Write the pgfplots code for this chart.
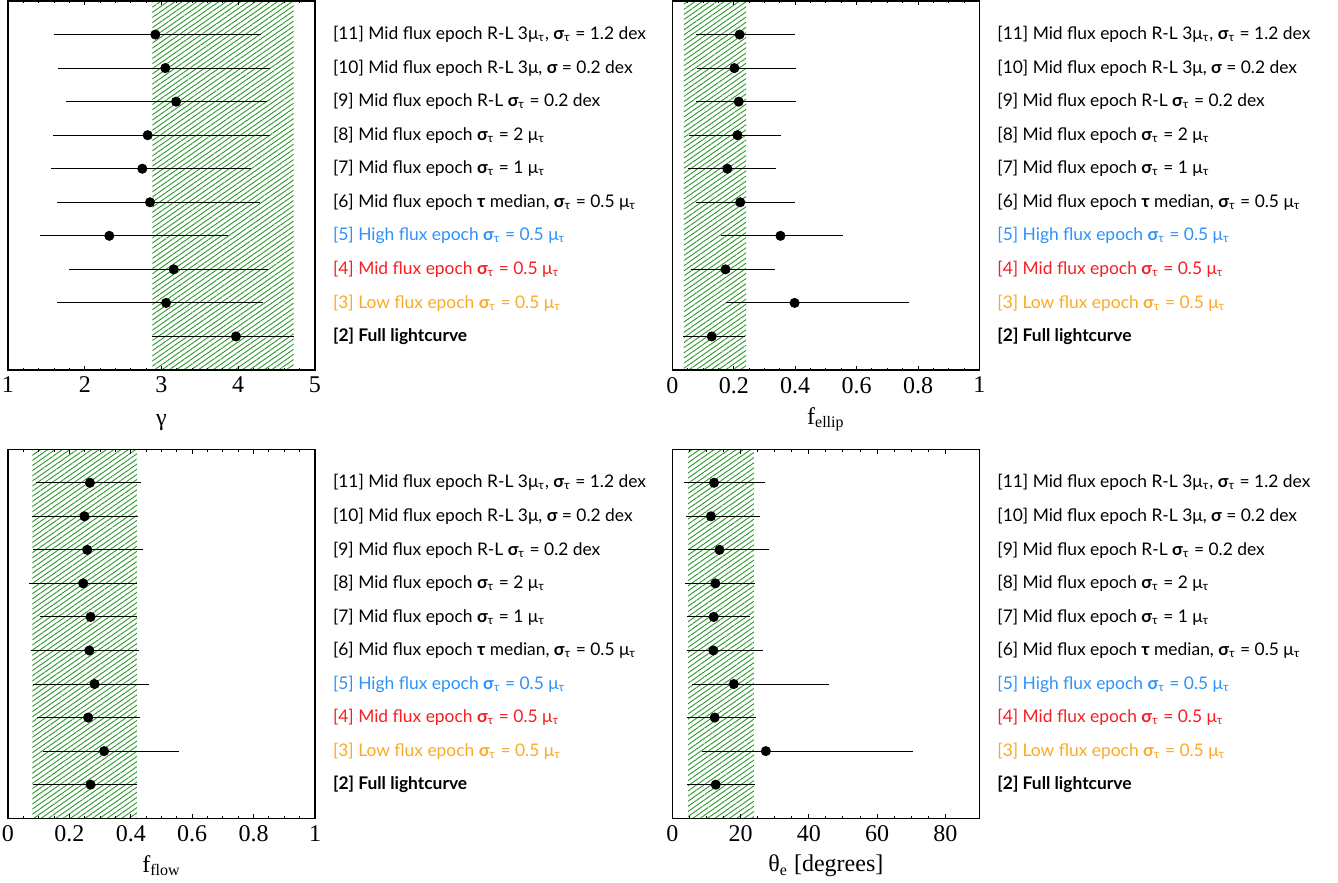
\documentclass[border=0pt]{standalone}
\usepackage{pgfplots}
\pgfplotsset{compat=1.18}
\usepackage{pgfplotstable}
\usepackage{fontspec}
\setmainfont{Liberation Serif}
\newfontfamily\lab{Lato}
\usetikzlibrary{patterns.meta}
\definecolor{cblue}{RGB}{45,145,250}
\definecolor{cred}{RGB}{245,30,35}
\definecolor{corange}{RGB}{250,170,35}
\definecolor{hatch}{RGB}{40,150,40}

\pgfplotstableread{
y x lo hi
11 2.92 1.60 4.29
10 3.05 1.65 4.41
9 3.19 1.75 4.38
8 2.82 1.58 4.41
7 2.75 1.56 4.16
6 2.85 1.64 4.28
5 2.32 1.42 3.86
4 3.16 1.79 4.39
3 3.06 1.64 4.32
2 3.97 2.87 4.72
}\dataA
\pgfplotstableread{
y x lo hi
11 0.219 0.077 0.400
10 0.202 0.080 0.403
9 0.216 0.077 0.403
8 0.212 0.055 0.355
7 0.179 0.051 0.338
6 0.221 0.077 0.398
5 0.352 0.159 0.555
4 0.173 0.060 0.333
3 0.398 0.173 0.770
2 0.128 0.036 0.236
}\dataB
\pgfplotstableread{
y x lo hi
11 0.267 0.090 0.434
10 0.249 0.077 0.423
9 0.258 0.081 0.439
8 0.245 0.070 0.419
7 0.269 0.103 0.420
6 0.265 0.075 0.428
5 0.282 0.083 0.459
4 0.261 0.094 0.431
3 0.313 0.114 0.558
2 0.269 0.081 0.420
}\dataC
\pgfplotstableread{
y x lo hi
11 12.2 3.5 27.1
10 11.3 4.1 25.7
9 13.8 4.6 28.2
8 12.6 3.8 24.1
7 12.1 4.2 22.7
6 12.0 4.2 26.7
5 18.0 5.6 45.8
4 12.4 4.2 24.5
3 27.4 8.6 70.4
2 12.7 4.4 24.1
}\dataD

\newcommand{\st}{{\bfseries σ}\textsubscript{τ}}
\newcommand{\mt}{μ\textsubscript{τ}}

\pgfplotsset{
  panel/.style={
    scale only axis, width=153.5pt, height=184.5pt,
    anchor=north west,
    ymin=1, ymax=12,
    axis on top,
    tick align=inside,
    xtick pos=both,
    major tick length=2.2pt, minor tick length=1.2pt,
    tick style={black, line width=0.5pt},
    axis line style={line width=0.6pt},
    /pgf/number format/assume math mode=true,
    xticklabel style={font=\fontsize{12}{14}\selectfont},
    xlabel style={font=\fontsize{12}{14}\selectfont},
    ytick={2,...,11},
    yticklabel pos=right,
    ytick style={draw=none},
    yticklabel style={font=\lab\fontsize{8.7}{10}\selectfont, anchor=west, xshift=5.5pt},
    yticklabels={
      {\textbf{[2] Full lightcurve}},
      {\textcolor{corange}{[3] Low flux epoch \st{} = 0.5 \mt}},
      {\textcolor{cred}{[4] Mid flux epoch \st{} = 0.5 \mt}},
      {\textcolor{cblue}{[5] High flux epoch \st{} = 0.5 \mt}},
      {[6] Mid flux epoch {\bfseries τ} median, \st{} = 0.5 \mt},
      {[7] Mid flux epoch \st{} = 1 \mt},
      {[8] Mid flux epoch \st{} = 2 \mt},
      {[9] Mid flux epoch R-L \st{} = 0.2 dex},
      {[10] Mid flux epoch R-L 3μ, {\bfseries σ} = 0.2 dex},
      {[11] Mid flux epoch R-L 3\mt, \st{} = 1.2 dex}
    },
  },
  band/.style={draw=none, pattern={Lines[angle=35,distance=2.1pt,line width=0.45pt]}, pattern color=hatch},
  pts/.style={only marks, mark=*, mark size=2.3pt, black,
    error bars/.cd, x dir=both, x explicit, error mark=none,
    error bar style={line width=0.5pt, black}},
}

\begin{document}
\begin{tikzpicture}
\useasboundingbox (0,0) rectangle (669pt,-441.5pt);

\begin{axis}[panel, at={(4pt,-0.5pt)}, xmin=1, xmax=5, xtick={1,2,3,4,5}, minor tick num=4, xlabel={γ}, xlabel style={yshift=-4pt}]
\addplot[band] coordinates {(2.88,1) (4.72,1) (4.72,12) (2.88,12)} -- cycle;
\addplot[pts] table[x=x, y=y, x error plus expr=\thisrow{hi}-\thisrow{x}, x error minus expr=\thisrow{x}-\thisrow{lo}] {\dataA};
\end{axis}

\begin{axis}[panel, at={(336.2pt,-0.5pt)}, xmin=0, xmax=1, xtick={0,0.2,...,1}, minor tick num=3, xlabel={f\textsubscript{ellip}}]
\addplot[band] coordinates {(0.037,1) (0.24,1) (0.24,12) (0.037,12)} -- cycle;
\addplot[pts] table[x=x, y=y, x error plus expr=\thisrow{hi}-\thisrow{x}, x error minus expr=\thisrow{x}-\thisrow{lo}] {\dataB};
\end{axis}

\begin{axis}[panel, at={(4pt,-224.6pt)}, xmin=0, xmax=1, xtick={0,0.2,...,1}, minor tick num=3, xlabel={f\textsubscript{flow}}]
\addplot[band] coordinates {(0.079,1) (0.42,1) (0.42,12) (0.079,12)} -- cycle;
\addplot[pts] table[x=x, y=y, x error plus expr=\thisrow{hi}-\thisrow{x}, x error minus expr=\thisrow{x}-\thisrow{lo}] {\dataC};
\end{axis}

\begin{axis}[panel, at={(336.2pt,-224.6pt)}, xmin=0, xmax=90, xtick={0,20,...,80}, minor tick num=3, xlabel={θ\textsubscript{e} [degrees]}]
\addplot[band] coordinates {(4.6,1) (23.9,1) (23.9,12) (4.6,12)} -- cycle;
\addplot[pts] table[x=x, y=y, x error plus expr=\thisrow{hi}-\thisrow{x}, x error minus expr=\thisrow{x}-\thisrow{lo}] {\dataD};
\end{axis}
\end{tikzpicture}
\end{document}
